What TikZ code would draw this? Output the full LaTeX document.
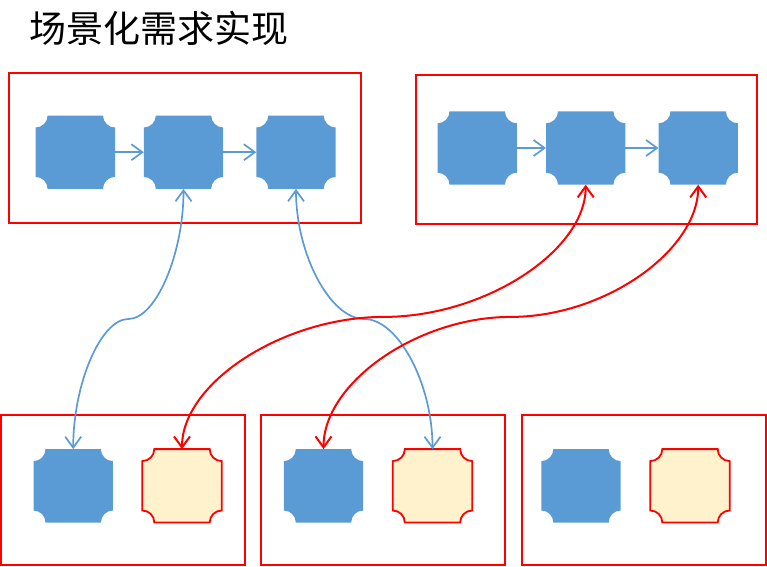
\documentclass[tikz,border=0pt]{standalone}
\usepackage{fontspec}
\newfontfamily\cjk{Noto Sans CJK SC}
\usepackage{tikz}
\usetikzlibrary{arrows.meta,calc}
\definecolor{tileblue}{HTML}{5B9BD5}
\definecolor{tileyellow}{HTML}{FFF2CC}
\definecolor{framered}{HTML}{FF0000}
% tile outline with cut-in corners
\newcommand{\notch}[2]{%
    \path[#2] ([xshift=12pt]#1.north west) -- ([xshift=-12pt]#1.north east)
        arc[start angle=180,delta angle=-90,radius=12] -- ([yshift=12pt]#1.south east)
        arc[start angle=270,delta angle=-90,radius=12] -- ([xshift=12pt]#1.south west)
        arc[start angle=0,delta angle=-90,radius=12] -- ([yshift=-12pt]#1.north west)
        arc[start angle=90,delta angle=-90,radius=12] -- cycle;}
% s-shaped connector, vertical at both ends
\newcommand{\sbend}[3]{%
    \draw[#3] let \p1=(#1), \p2=(#2) in (\p1)
        .. controls (\x1,{(3*\y1+\y2)/4}) and ({(3*\x1+\x2)/4},{(\y1+\y2)/2}) .. ({(\x1+\x2)/2},{(\y1+\y2)/2})
        .. controls ({(\x1+3*\x2)/4},{(\y1+\y2)/2}) and (\x2,{(\y1+3*\y2)/4}) .. (\p2);}

\begin{document}
\begin{tikzpicture}[x=1pt,y=-1pt,
        tile/.style={minimum width=79pt,minimum height=73pt,inner sep=0pt},
        frame/.style={draw=framered,line width=2pt},
        link/.style={line width=1.7pt,>={Straight Barb[length=11pt,width=16pt]}}]
    \useasboundingbox (0,0) rectangle (767,566);
    \node[anchor=west,inner sep=0pt,font=\cjk\fontsize{37pt}{37pt}\selectfont] (title) at (29.5,28.5) {场景化需求实现};
    % frames
    \draw[frame] (9,73.3) rectangle (361,222.7);
    \draw[frame] (415.7,75) rectangle (757,224.3);
    \foreach \l/\r in {1/245, 261/504.7, 522/765.7} {
        \draw[frame] (\l,415) rectangle (\r,564.5);
    }
    % top rows
    \foreach \x [count=\i] in {75.3,183.5,296} {
        \node[tile] (a\i) at (\x,152.2) {};
        \notch{a\i}{fill=tileblue}
    }
    \foreach \x [count=\i] in {477.2,585.7,698.2} {
        \node[tile] (b\i) at (\x,148) {};
        \notch{b\i}{fill=tileblue}
    }
    \foreach \i/\j in {1/2,2/3} {
        \draw[link,->,draw=tileblue] (a\i) -- (a\j);
        \draw[link,->,draw=tileblue] (b\i) -- (b\j);
    }
    % bottom row
    \foreach \x/\y [count=\i] in {73.2/182, 323.5/432.5, 581/690} {
        \node[tile] (c\i) at (\x,485.8) {};
        \node[tile] (d\i) at (\y,485.8) {};
        \notch{c\i}{fill=tileblue}
        \notch{d\i}{fill=tileyellow,draw=framered,line width=1.8pt}
    }
    % links between rows
    \sbend{a2.south}{c1.north}{link,<->,draw=tileblue}
    \sbend{a3.south}{d2.north}{link,<->,draw=tileblue}
    \sbend{b2.south}{d1.north}{link,line width=2pt,<->,draw=framered}
    \sbend{b3.south}{c2.north}{link,line width=2pt,<->,draw=framered}
\end{tikzpicture}
\end{document}
